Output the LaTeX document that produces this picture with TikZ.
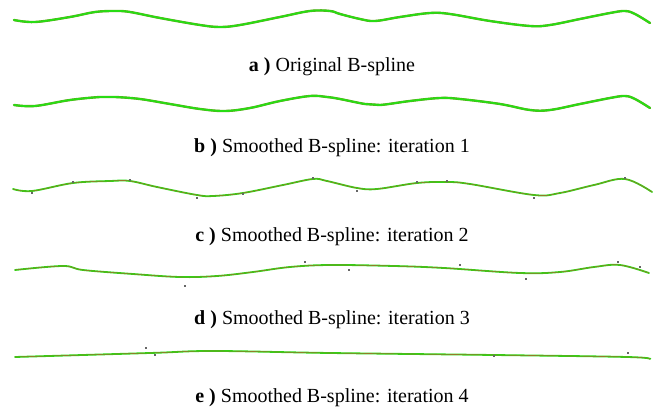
\documentclass[tikz,border=0pt]{standalone}
\usepackage{fontspec}
\setmainfont{Liberation Serif}
\begin{document}
\begin{tikzpicture}[x=1pt,y=-1pt,
  lbl/.style={font=\fontsize{20}{24}\selectfont, anchor=center, inner sep=0pt},
  cp/.style={fill=gray!80!black, minimum size=1.8pt, inner sep=0pt, shape=rectangle}]
\useasboundingbox (0,0) rectangle (657,412);
\definecolor{sgreen}{RGB}{40,220,20}
\definecolor{solive}{RGB}{150,120,40}
\tikzset{
  outer/.style={line width=2.4pt, draw=solive!60!sgreen, line cap=round},
  gline/.style={line width=1.8pt, draw=sgreen, line cap=round},
  oline/.style={line width=0.6pt, draw=solive}}
% a
\draw[outer] plot[smooth, tension=0.6] coordinates {(14,20) (35,22) (70,17) (95,12) (115,11) (130,12) (160,18) (200,25) (220,27) (240,25) (280,17) (310,11) (330,11) (340,14) (360,19) (375,21) (400,17) (430,13) (450,14) (490,21) (530,26) (550,25) (580,19) (610,13) (625,11) (635,14) (650,23)};
\draw[gline] plot[smooth, tension=0.6] coordinates {(14,20) (35,22) (70,17) (95,12) (115,11) (130,12) (160,18) (200,25) (220,27) (240,25) (280,17) (310,11) (330,11) (340,14) (360,19) (375,21) (400,17) (430,13) (450,14) (490,21) (530,26) (550,25) (580,19) (610,13) (625,11) (635,14) (650,23)};
\node[lbl] (la) at (332,67) {\textbf{a )} Original B-spline};
% b
\draw[outer] plot[smooth, tension=0.6] coordinates {(14,105) (35,106) (70,100) (100,97) (115,97) (140,99) (170,104) (200,109) (225,111) (250,108) (280,101) (310,96) (327,97) (340,99) (365,104) (380,105) (410,101) (440,98) (460,99) (500,104) (530,110) (550,110) (580,104) (610,98) (625,96) (635,99) (650,108)};
\draw[gline] plot[smooth, tension=0.6] coordinates {(14,105) (35,106) (70,100) (100,97) (115,97) (140,99) (170,104) (200,109) (225,111) (250,108) (280,101) (310,96) (327,97) (340,99) (365,104) (380,105) (410,101) (440,98) (460,99) (500,104) (530,110) (550,110) (580,104) (610,98) (625,96) (635,99) (650,108)};
\node[lbl] (lb) at (332,148) {\textbf{b )} Smoothed B-spline: iteration 1};
% c
\draw[gline] plot[smooth, tension=0.6] coordinates {(13,189) (32,191) (73,183) (110,181) (130,181) (157,187) (197,195) (213,196) (243,193) (283,185) (313,179) (327,181) (357,188) (377,189) (417,183) (447,182) (470,184) (534,195) (560,193) (594,185) (625,179) (652,192)};
\draw[oline] plot[smooth, tension=0.6] coordinates {(13,189) (32,191) (73,183) (110,181) (130,181) (157,187) (197,195) (213,196) (243,193) (283,185) (313,179) (327,181) (357,188) (377,189) (417,183) (447,182) (470,184) (534,195) (560,193) (594,185) (625,179) (652,192)};
\foreach \p [count=\i] in {(32,193),(73,182),(130,180),(197,198),(243,194),(313,178),(357,191),(417,182),(447,181),(534,198),(625,178)}
  \node[cp] (c\i) at \p {};
\node[lbl] (lc) at (332,237) {\textbf{c )} Smoothed B-spline: iteration 2};
% d
\draw[gline] plot[smooth, tension=0.6] coordinates {(15,270) (63,266) (83,270) (133,274) (180,277) (217,276) (253,272) (290,267) (330,265) (394,266) (444,268) (520,273) (560,272) (594,267) (620,265) (649,273)};
\draw[oline] plot[smooth, tension=0.6] coordinates {(15,270) (63,266) (83,270) (133,274) (180,277) (217,276) (253,272) (290,267) (330,265) (394,266) (444,268) (520,273) (560,272) (594,267) (620,265) (649,273)};
\foreach \p [count=\i] in {(185,286),(305,262),(349,270),(460,265),(526,279),(618,262),(640,267)}
  \node[cp] (d\i) at \p {};
\node[lbl] (ld) at (332,320) {\textbf{d )} Smoothed B-spline: iteration 3};
% e
\draw[gline] plot[smooth, tension=0.6] coordinates {(15,357) (150,353) (213,351) (330,353) (494,355) (627,357) (650,359)};
\draw[oline] plot[smooth, tension=0.6] coordinates {(15,357) (150,353) (213,351) (330,353) (494,355) (627,357) (650,359)};
\foreach \p [count=\i] in {(146,348),(155,355),(494,356),(628,353)}
  \node[cp] (e\i) at \p {};
\node[lbl] (le) at (332,398) {\textbf{e )} Smoothed B-spline: iteration 4};
\end{tikzpicture}
\end{document}
